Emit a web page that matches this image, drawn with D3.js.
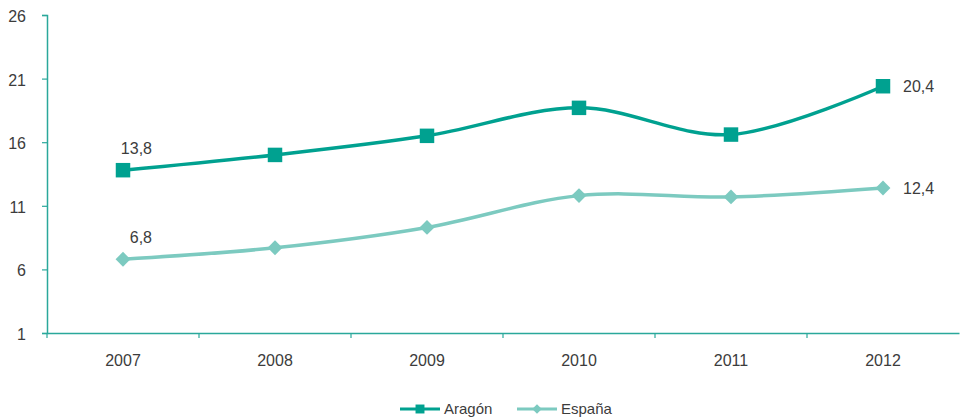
<!DOCTYPE html>
<html>
<head>
<meta charset="utf-8">
<script src="https://cdn.jsdelivr.net/npm/d3@7"></script>
<style>
  body { margin: 0; background: #fff; }
  text { font-family: "Liberation Sans", Arial, sans-serif; fill: #3c3c3c; }
</style>
</head>
<body>
<div id="chart"></div>
<script>
// datos
const years = ["2007", "2008", "2009", "2010", "2011", "2012"];
const aragon = [13.8, 15.0, 16.5, 18.7, 16.6, 20.4];
const espana = [6.8, 7.7, 9.3, 11.8, 11.7, 12.4];
const yTicks = [1, 6, 11, 16, 21, 26];

const width = 960, height = 420;
const margin = {top: 15, right: 1, bottom: 87, left: 47};

const colAragon = "#00a190";
const colEspana = "#7ccac0";
const colAxis = "#2aa89b";

const svg = d3.select("#chart").append("svg")
  .attr("width", width)
  .attr("height", height);

const x = d3.scaleBand()
  .domain(years)
  .range([margin.left, width - margin.right]);

const y = d3.scaleLinear()
  .domain([1, 26])
  .range([height - margin.bottom, margin.top]);

const cx = d => x(d) + x.bandwidth() / 2;

// EJES

const yAxis = svg.append("g")
  .attr("transform", `translate(${margin.left},0)`)
  .call(d3.axisLeft(y).tickValues(yTicks).tickSize(5).tickPadding(16).tickFormat(d3.format("d")));

const xAxis = svg.append("g")
  .attr("transform", `translate(0,${y(1)})`)
  .call(d3.axisBottom(x).tickSize(0).tickPadding(22));

// ticks entre categorias
xAxis.selectAll(".sep")
  .data(years.map(d => x(d) + x.bandwidth()).slice(0, -1).concat([x(years[0])]))
  .enter().append("line")
  .attr("class", "sep")
  .attr("x1", d => d).attr("x2", d => d)
  .attr("y1", 0).attr("y2", 5);

[yAxis, xAxis].forEach(a => {
  a.select(".domain").attr("stroke", colAxis).attr("stroke-width", 1.5);
  a.selectAll("line").attr("stroke", colAxis).attr("stroke-width", 1.2);
  a.selectAll("text").style("font-size", "16px").attr("fill", "#3c3c3c");
});
yAxis.selectAll("text").attr("dy", "0.4em");

// LINEAS

const line = d3.line()
  .x((d, i) => cx(years[i]))
  .y(d => y(d))
  .curve(d3.curveCardinal.tension(0));

svg.append("path")
  .datum(espana)
  .attr("fill", "none")
  .attr("stroke", colEspana)
  .attr("stroke-width", 3.5)
  .attr("d", line);

svg.append("path")
  .datum(aragon)
  .attr("fill", "none")
  .attr("stroke", colAragon)
  .attr("stroke-width", 3.5)
  .attr("d", line);

const square = d3.symbol().type(d3.symbolSquare).size(210);
const diamond = d3.symbol().type(d3.symbolSquare).size(110);

svg.selectAll(".m-esp")
  .data(espana)
  .enter().append("path")
  .attr("class", "m-esp")
  .attr("d", diamond)
  .attr("fill", colEspana)
  .attr("transform", (d, i) => `translate(${cx(years[i])},${y(d)}) rotate(45)`);

svg.selectAll(".m-ara")
  .data(aragon)
  .enter().append("path")
  .attr("class", "m-ara")
  .attr("d", square)
  .attr("fill", colAragon)
  .attr("transform", (d, i) => `translate(${cx(years[i])},${y(d)})`);

// ETIQUETAS

const fmt = v => d3.format(".1f")(v).replace(".", ",");
const last = years.length - 1;

[aragon, espana].forEach(s => {
  svg.append("text")
    .attr("x", cx(years[0]) + 29)
    .attr("y", y(s[0]) - 16)
    .attr("text-anchor", "end")
    .style("font-size", "16px")
    .text(fmt(s[0]));
  svg.append("text")
    .attr("x", cx(years[last]) + 20)
    .attr("y", y(s[last]) + 6)
    .style("font-size", "16px")
    .text(fmt(s[last]));
});

// LEYENDA

const legend = svg.append("g").attr("transform", "translate(0,409)");
const items = [
  {name: "Aragón", color: colAragon, x0: 400, rot: 0},
  {name: "España", color: colEspana, x0: 517, rot: 45}
];
items.forEach(it => {
  legend.append("line")
    .attr("x1", it.x0).attr("x2", it.x0 + 40)
    .attr("stroke", it.color).attr("stroke-width", 3);
  legend.append("path")
    .attr("d", d3.symbol().type(d3.symbolSquare).size(it.rot ? 45 : 80)())
    .attr("fill", it.color)
    .attr("transform", `translate(${it.x0 + 20},0) rotate(${it.rot})`);
  legend.append("text")
    .attr("x", it.x0 + 44)
    .attr("y", 5)
    .style("font-size", "15px")
    .text(it.name);
});
</script>
</body>
</html>
